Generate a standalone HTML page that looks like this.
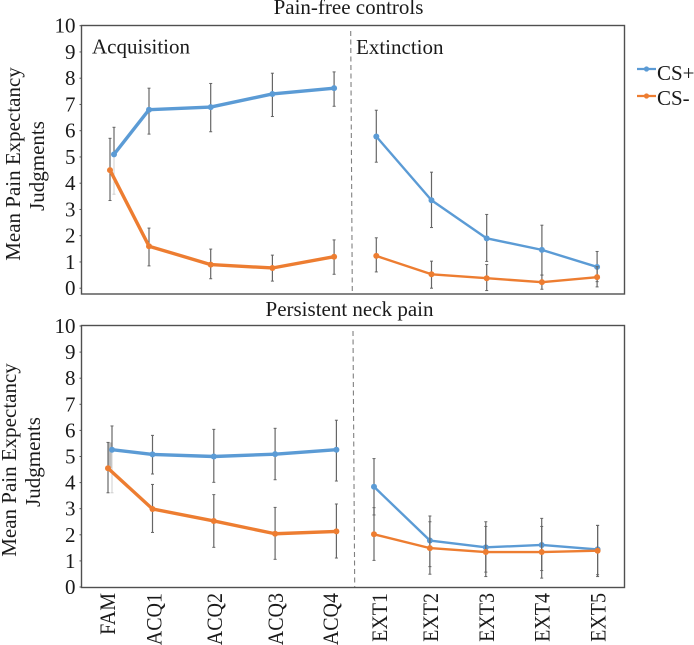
<!DOCTYPE html>
<html lang="en">
<head>
<meta charset="utf-8">
<title>Mean Pain Expectancy Judgments</title>
<style>
  html, body { margin: 0; padding: 0; background: #fff; }
  body { width: 694px; height: 645px; overflow: hidden; }
  svg { display: block; font-family: "Liberation Serif", "Times New Roman", serif; fill: #1a1a1a; }
</style>
</head>
<body>
<svg id="chart" xmlns="http://www.w3.org/2000/svg" width="694" height="645" viewBox="0 0 694 645">
  <text x="657" y="80" font-size="21">CS+</text>
  <text x="657" y="105" font-size="21">CS-</text>
</svg>
<script>
// Categories and axis ticks
const categories = ['FAM', 'ACQ1', 'ACQ2', 'ACQ3', 'ACQ4', 'EXT1', 'EXT2', 'EXT3', 'EXT4', 'EXT5'];
const yTicks = [0, 1, 2, 3, 4, 5, 6, 7, 8, 9, 10];

// Pain-free controls
const controlsCsPlus = [5.1, 6.8, 6.9, 7.4, 7.62, 5.78, 3.35, 1.9, 1.46, 0.81];
const controlsCsPlusHigh = [6.13, 7.62, 7.8, 8.19, 8.24, 6.78, 4.42, 2.81, 2.4, 1.4];
const controlsCsPlusLow = [3.58, 5.87, 5.96, 6.54, 6.93, 4.8, 2.31, 1.02, 0.5, 0.25];
const controlsCsMinus = [4.5, 1.6, 0.9, 0.77, 1.2, 1.23, 0.53, 0.38, 0.23, 0.42];
const controlsCsMinusHigh = [5.71, 2.29, 1.49, 1.26, 1.84, 1.92, 1.03, 0.9, 0.5, 0.82];
const controlsCsMinusLow = [3.34, 0.85, 0.36, 0.27, 0.53, 0.62, 0, -0.09, -0.04, 0.05];

// Persistent neck pain
const neckCsPlus = [5.26, 5.08, 5.0, 5.09, 5.26, 3.84, 1.78, 1.52, 1.61, 1.44];
const neckCsPlusHigh = [6.17, 5.81, 6.04, 6.08, 6.39, 4.92, 2.72, 2.5, 2.63, 2.36];
const neckCsPlusLow = [3.61, 4.33, 4.01, 4.11, 4.06, 2.76, 0.78, 0.57, 0.63, 0.47];
const neckCsMinus = [4.55, 2.99, 2.53, 2.04, 2.13, 2.02, 1.49, 1.34, 1.34, 1.39];
const neckCsMinusHigh = [5.54, 3.93, 3.54, 3.05, 3.18, 3.04, 2.5, 2.32, 2.32, 2.36];
const neckCsMinusLow = [3.61, 2.09, 1.52, 1.06, 1.11, 1.02, 0.49, 0.4, 0.34, 0.4];

const BLUE = '#5b9bd5';
const ORANGE = '#ed7d31';
const NS = 'http://www.w3.org/2000/svg';
const svg = document.getElementById('chart');

function make(tag, parent) {
  const el = document.createElementNS(NS, tag);
  parent.appendChild(el);
  return el;
}
function setAll(el, attrs) {
  Object.keys(attrs).forEach(function (k) { el.setAttribute(k, attrs[k]); });
  return el;
}
function labelNudge(i) {
  if (i === 0) return 5;
  if (i === 1) return 9;
  if (i === 4) return 1.6;
  if (i === 5) return 13;
  return 8;
}

function drawPanel(p) {
  const yScale = function (v) { return p.y0 - v * p.unit; };
  const xScale = function (i) {
    if (i === 0) return p.famX;
    if (i < 5) return p.acqX + (i - 1) * p.acqStep;
    return p.extX + (i - 5) * p.extStep;
  };

  const g = make('g', svg);
  
  

  const frame = make('rect', g);
  
  
  setAll(frame, { x: p.left + 0.5, y: p.top + 0.5, width: p.right - p.left, height: p.bottom - p.top, fill: '#fff', stroke: '#505050', 'stroke-width': 1.4 });

  const title = make('text', g);
  
  
  setAll(title, { x: p.titleX, y: p.titleY, 'font-size': 21, 'text-anchor': 'middle' });
  title.textContent = p.title;

  yTicks.forEach(function (t) {
    const y = yScale(t);
    const tick = make('line', g);
    
    
    setAll(tick, { x1: p.left - 1.5, x2: p.left, y1: y, y2: y, stroke: '#555', 'stroke-width': 1 });
    const lab = make('text', g);
    
    
    setAll(lab, { x: p.left - 5.5, y: y + 7, 'font-size': 21, 'text-anchor': 'end' });
    lab.textContent = t;
  });

  const yTitle = make('text', g);
  
  
  setAll(yTitle, { transform: 'translate(' + p.yTitleX + ',' + p.yTitleY + ') rotate(-90)', 'font-size': 21, 'text-anchor': 'middle' });
  const l1 = make('tspan', yTitle);
  setAll(l1, { x: 0, y: 0 });
  l1.textContent = 'Mean Pain Expectancy';
  const l2 = make('tspan', yTitle);
  setAll(l2, { x: -2, y: 24 });
  l2.textContent = 'Judgments';

  const divider = make('line', g);
  
  
  setAll(divider, { x1: p.divX1, x2: p.divX2, y1: p.top + 6, y2: p.bottom, stroke: '#808080', 'stroke-width': 1.1, 'stroke-dasharray': '5 3.5' });

  if (p.famBand) {
    const band = make('rect', g);
    
    
    setAll(band, { x: p.famX - 2, y: yScale(p.series[1].high[0]), width: 4, height: yScale(p.series[1].values[0]) - yScale(p.series[1].high[0]), fill: '#bdbdbd' });
  }

  p.series.forEach(function (s) {
    const offsetX = function (i) { return i === 0 ? xScale(0) + s.famOffset : xScale(i); };
    const sg = make('g', g);
    
    

    s.values.forEach(function (v, i) {
      const x = offsetX(i);
      const bar = make('g', sg);
      
      
      const hi = yScale(s.high[i]);
      const lo = yScale(s.low[i]);
      const stem = make('line', bar);
      setAll(stem, { x1: x, x2: x, y1: hi, y2: i === 0 && s.key === 'cs-plus' ? yScale(v) : lo, stroke: '#666', 'stroke-width': 1.2 });
      if (i === 0 && s.key === 'cs-plus') {
        const faint = make('line', bar);
        setAll(faint, { x1: x, x2: x, y1: yScale(v), y2: lo, stroke: '#cfcfcf', 'stroke-width': 1 });
      }
      const capTop = make('line', bar);
      setAll(capTop, { x1: x - 1.5, x2: x + 1.5, y1: hi, y2: hi, stroke: '#666', 'stroke-width': 1 });
      const capBottom = make('line', bar);
      setAll(capBottom, { x1: x - 1.5, x2: x + 1.5, y1: lo, y2: lo, stroke: i === 0 && s.key === 'cs-plus' ? '#cfcfcf' : '#666', 'stroke-width': 1 });
    });

    const acqPts = [];
    const extPts = [];
    s.values.forEach(function (v, i) {
      (i < 5 ? acqPts : extPts).push(offsetX(i) + ',' + yScale(v));
    });
    const acqLine = make('polyline', sg);
    
    
    setAll(acqLine, { points: acqPts.join(' '), fill: 'none', stroke: s.color, 'stroke-width': 3.4, 'stroke-linejoin': 'round' });
    const extLine = make('polyline', sg);
    
    
    setAll(extLine, { points: extPts.join(' '), fill: 'none', stroke: s.color, 'stroke-width': 2.4, 'stroke-linejoin': 'round' });

    s.values.forEach(function (v, i) {
      const dot = make('circle', sg);
      
      
      setAll(dot, { cx: offsetX(i), cy: yScale(v), r: 3, fill: s.color });
    });
  });

  if (p.showCategories) {
    categories.forEach(function (c, i) {
      const lab = make('text', g);
      
      
      const lx = xScale(i) + labelNudge(i);
      setAll(lab, { transform: 'translate(' + lx + ',' + (p.bottom + 6) + ') rotate(-90) scale(1,1.1)', 'font-size': 20, 'text-anchor': 'end' });
      lab.textContent = c;
    });
  }

  if (p.phases) {
    const acq = make('text', g);
    
    
    setAll(acq, { x: 92, y: 53.5, 'font-size': 21 });
    acq.textContent = 'Acquisition';
    const ext = make('text', g);
    
    
    setAll(ext, { x: 356, y: 54, 'font-size': 21 });
    ext.textContent = 'Extinction';
  }
}

drawPanel({
  name: 'controls', title: 'Pain-free controls', titleX: 348.5, titleY: 14,
  left: 81, right: 624, top: 25, bottom: 293.5, y0: 288.2, unit: 26.25,
  famX: 112, acqX: 149, acqStep: 61.7, extX: 376.3, extStep: 55.2,
  divX1: 350.7, divX2: 352.3, yTitleX: 20, yTitleY: 164,
  phases: true, showCategories: false, famBand: false,
  series: [
    { key: 'cs-plus', color: BLUE, famOffset: 2, values: controlsCsPlus, high: controlsCsPlusHigh, low: controlsCsPlusLow },
    { key: 'cs-minus', color: ORANGE, famOffset: -2, values: controlsCsMinus, high: controlsCsMinusHigh, low: controlsCsMinusLow }
  ]
});

drawPanel({
  name: 'neck-pain', title: 'Persistent neck pain', titleX: 349.5, titleY: 316,
  left: 81, right: 624, top: 325, bottom: 587, y0: 587, unit: 26.1,
  famX: 110, acqX: 152.5, acqStep: 61.3, extX: 374, extStep: 55.9,
  divX1: 353, divX2: 354.7, yTitleX: 16, yTitleY: 460,
  phases: false, showCategories: true, famBand: true,
  series: [
    { key: 'cs-plus', color: BLUE, famOffset: 2, values: neckCsPlus, high: neckCsPlusHigh, low: neckCsPlusLow },
    { key: 'cs-minus', color: ORANGE, famOffset: -2, values: neckCsMinus, high: neckCsMinusHigh, low: neckCsMinusLow }
  ]
});

[[BLUE, 69, 'cs-plus'], [ORANGE, 96, 'cs-minus']].forEach(function (e) {
  const line = make('line', svg);
  
  
  setAll(line, { x1: 637, x2: 656, y1: e[1], y2: e[1], stroke: e[0], 'stroke-width': 2.2 });
  const dot = make('circle', svg);
  
  
  setAll(dot, { cx: 646.5, cy: e[1], r: 2.6, fill: e[0] });
});
</script>
</body>
</html>
